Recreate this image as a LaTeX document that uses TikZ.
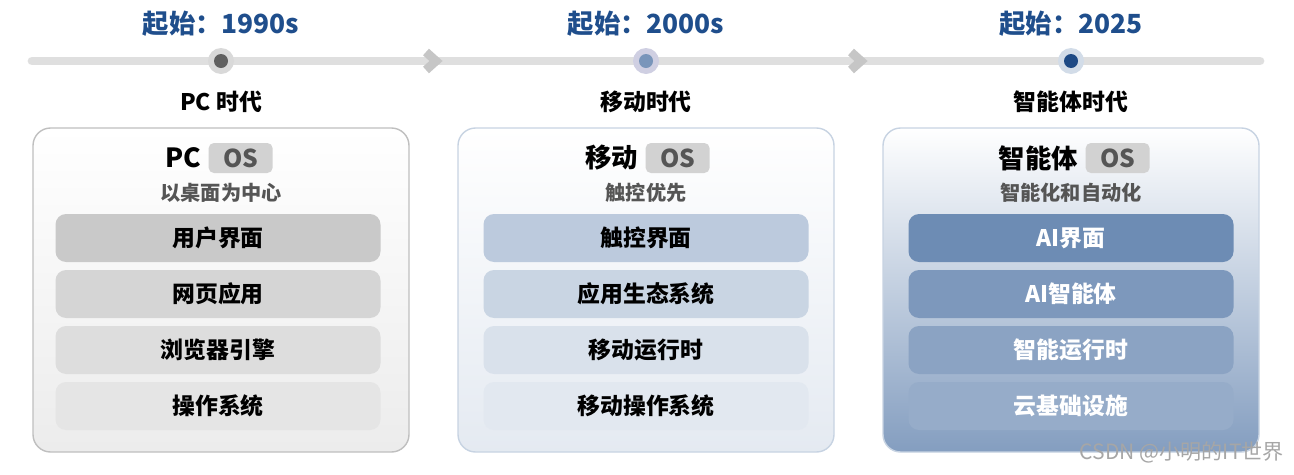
\documentclass[tikz,border=0pt]{standalone}
\usepackage{fontspec}
\setmainfont{Noto Sans CJK SC}
\usetikzlibrary{positioning, calc}
\definecolor{titleblue}{HTML}{1F4E8C}
\definecolor{graytxt}{HTML}{555555}
\begin{document}
\begin{tikzpicture}[x=0.02cm, y=-0.02cm,
    panel/.style={rounded corners=10pt, line width=0.8pt, minimum width=376*0.02cm, minimum height=324*0.02cm},
    item/.style={rounded corners=6pt, minimum width=325*0.02cm, minimum height=48*0.02cm, font=\bfseries\fontsize{13}{15}\selectfont},
    ostag/.style={fill=gray!35, text=graytxt, rounded corners=3pt, inner sep=2pt, minimum width=64*0.02cm, minimum height=30*0.02cm, font=\bfseries\fontsize{14}{16}\selectfont},
    head/.style={font=\bfseries\fontsize{15}{18}\selectfont, inner sep=1pt},
    sub/.style={text=graytxt, font=\bfseries\fontsize{11.5}{13}\selectfont},
    era/.style={font=\bfseries\fontsize{13}{15}\selectfont},
    start/.style={text=titleblue, font=\bfseries\fontsize{15}{18}\selectfont},
    chev/.style={line width=5pt, gray!45}
]
\useasboundingbox (0,0) rectangle (1294,474);
% timeline
\draw[line width=5pt, gray!25, line cap=round] (32,61) -- (1260,61);
\draw[chev] (426,52) -- (436,61) -- (426,70);
\draw[chev] (851,52) -- (861,61) -- (851,70);
\fill[gray!30] (221,61) circle (13);
\fill[gray!75!black] (221,61) circle (7);
\fill[blue!25!gray!30] (646,61) circle (13);
\fill[titleblue!60] (646,61) circle (7);
\fill[titleblue!20] (1071,61) circle (13);
\fill[titleblue!95!black] (1071,61) circle (7);
\node[start] (s1) at (221,24) {起始：1990s};
\node[start] (s2) at (646,24) {起始：2000s};
\node[start] (s3) at (1071,24) {起始：2025};
\node[era] (e1) at (221,102) {PC 时代};
\node[era] (e2) at (646,102) {移动时代};
\node[era] (e3) at (1071,102) {智能体时代};
% panels
\node[panel, draw=gray!50, top color=white, bottom color=gray!15] (p1) at (221,290) {};
\node[panel, draw=titleblue!25, top color=white, bottom color=titleblue!12] (p2) at (646,290) {};
\node[panel, draw=titleblue!25, top color=white, bottom color=titleblue!55] (p3) at (1071,290) {};
% headers
\node[head, anchor=east] (h1) at (203,158) {PC};
\node[ostag, right=3pt of h1] (o1) {OS};
\node[head, anchor=east] (h2) at (640,158) {移动};
\node[ostag, right=3pt of h2] (o2) {OS};
\node[head, anchor=east] (h3) at (1080,158) {智能体};
\node[ostag, right=3pt of h3] (o3) {OS};
\node[sub] (d1) at (221,193) {以桌面为中心};
\node[sub] (d2) at (646,193) {触控优先};
\node[sub] (d3) at (1071,193) {智能化和自动化};
% items
\node[item, fill=gray!42] (a1) at (218,238) {用户界面};
\node[item, fill=gray!33] (a2) at (218,294) {网页应用};
\node[item, fill=gray!27] (a3) at (218,350) {浏览器引擎};
\node[item, fill=gray!20] (a4) at (218,406) {操作系统};
\node[item, fill=titleblue!30] (b1) at (646,238) {触控界面};
\node[item, fill=titleblue!24] (b2) at (646,294) {应用生态系统};
\node[item, fill=titleblue!17] (b3) at (646,350) {移动运行时};
\node[item, fill=titleblue!13] (b4) at (646,406) {移动操作系统};
\node[item, fill=titleblue!65, text=white] (c1) at (1071,238) {AI界面};
\node[item, fill=titleblue!58, text=white] (c2) at (1071,294) {AI智能体};
\node[item, fill=titleblue!52, text=white] (c3) at (1071,350) {智能运行时};
\node[item, fill=titleblue!47, text=white] (c4) at (1071,406) {云基础设施};
\node[text=gray!70, font=\fontsize{12}{14}\selectfont, anchor=east] (wm) at (1290,452) {CSDN @小明的IT世界};
\end{tikzpicture}
\end{document}
